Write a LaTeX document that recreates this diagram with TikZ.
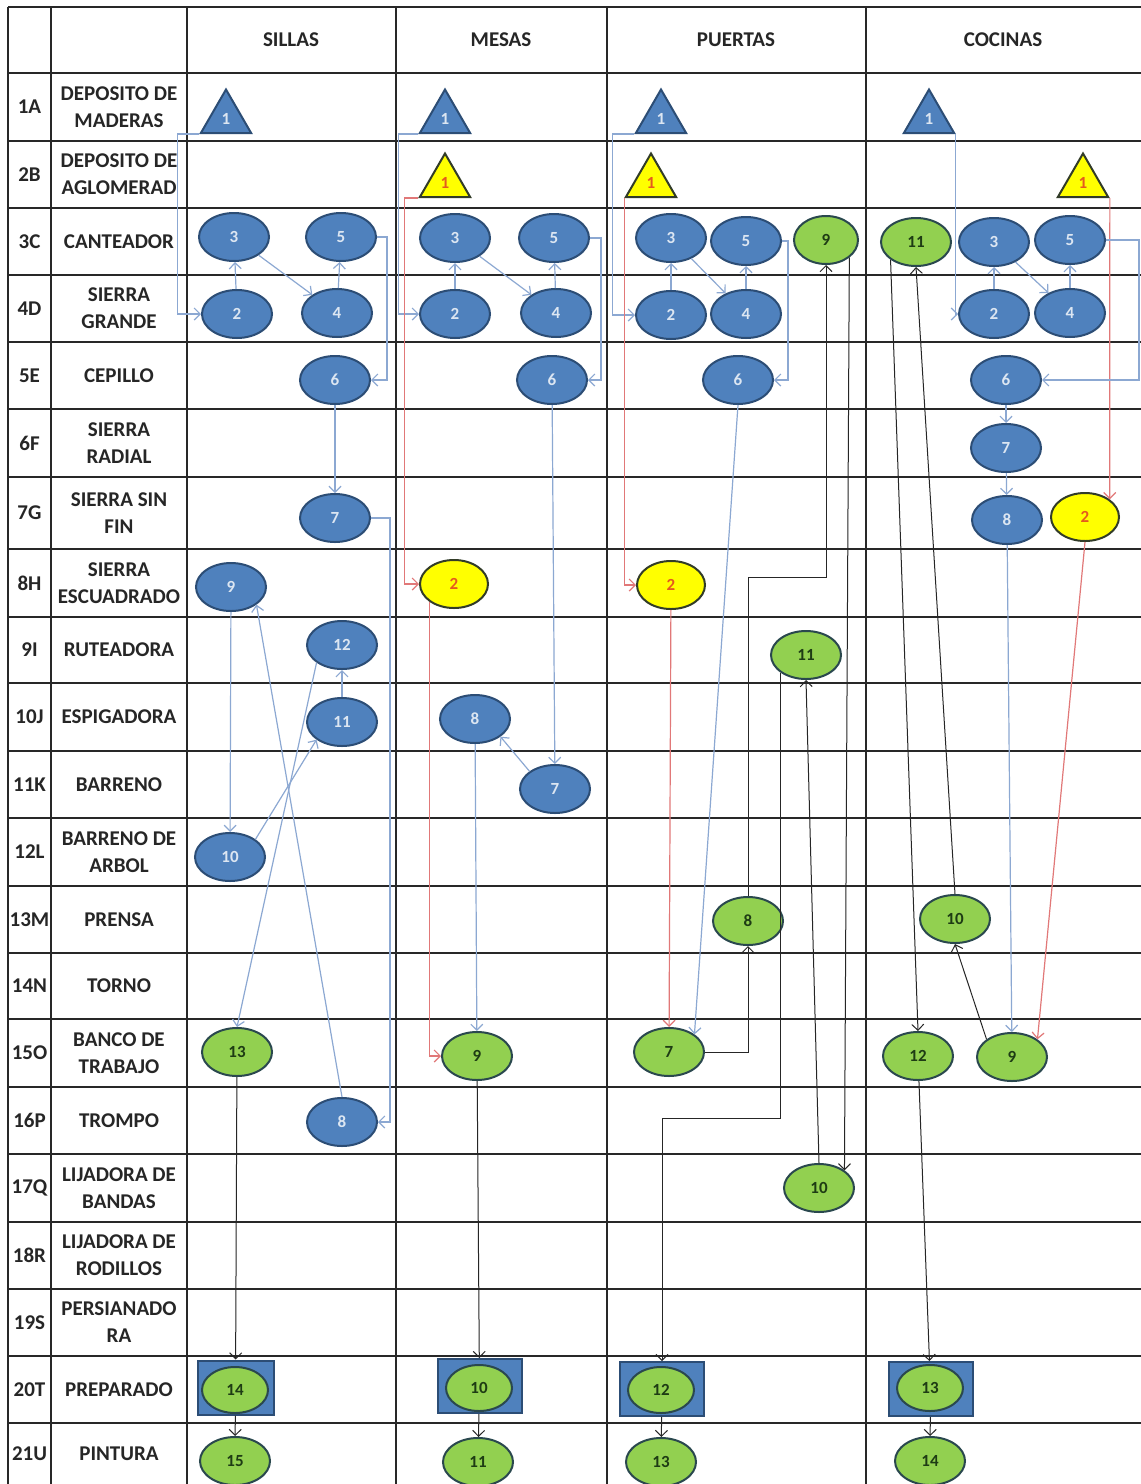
\documentclass[tikz,border=0pt]{standalone}
\usepackage{fontspec}
\setmainfont{Carlito}
\usetikzlibrary{shapes.geometric,arrows.meta}
\definecolor{bluef}{RGB}{79,129,189}
\definecolor{bluedk}{RGB}{44,77,117}
\definecolor{bluetxt}{RGB}{220,230,242}
\definecolor{greenf}{RGB}{146,208,80}
\definecolor{greendk}{RGB}{42,72,78}
\definecolor{greentxt}{RGB}{30,60,20}
\definecolor{yelf}{RGB}{255,255,0}
\definecolor{yeldk}{RGB}{50,60,40}
\definecolor{redtxt}{RGB}{228,90,30}
\definecolor{blueline}{RGB}{140,168,210}
\definecolor{redline}{RGB}{225,120,120}
\definecolor{gridc}{RGB}{40,40,40}
\definecolor{labc}{RGB}{38,38,38}
\tikzset{
  gridln/.style={draw=gridc, line width=0.8pt},
  headl/.style={font=\bfseries\fontsize{10.5}{13}\selectfont, text=labc, inner sep=0},
  codel/.style={font=\bfseries\fontsize{10.5}{13}\selectfont, text=labc, inner sep=0},
  rowl/.style={font=\bfseries\fontsize{10.5}{13.5}\selectfont, text=labc, align=center, inner sep=0},
  numf/.style={font=\bfseries\fontsize{8.5}{10}\selectfont},
  bnode/.style={ellipse, draw=bluedk, fill=bluef, line width=1pt, minimum width=35pt, minimum height=24pt, inner sep=0, numf, text=bluetxt},
  gnode/.style={ellipse, draw=greendk, fill=greenf, line width=1pt, minimum width=35pt, minimum height=24pt, inner sep=0, numf, text=greentxt},
  ynode/.style={ellipse, draw=yeldk, fill=yelf, line width=1pt, minimum width=34pt, minimum height=24pt, inner sep=0, numf, text=redtxt},
  ginner/.style={ellipse, draw=greendk, fill=greenf, line width=1pt, minimum width=33pt, minimum height=23pt, inner sep=0, numf, text=greentxt},
  btri/.style={regular polygon, regular polygon sides=3, minimum size=29pt, inner sep=0, draw=bluedk, fill=bluef, line width=1pt, numf, text=bluetxt},
  ytri/.style={regular polygon, regular polygon sides=3, minimum size=29pt, inner sep=0, draw=yeldk, fill=yelf, line width=1pt, numf, text=redtxt},
  prep/.style={rectangle, draw=bluedk, fill=bluef, line width=1pt, minimum width=42pt, minimum height=27pt, inner sep=0},
  tipv/.style={-{Straight Barb[length=3pt,width=6pt]}},
  blueln/.style={draw=blueline, line width=0.6pt, tipv},
  redln/.style={draw=redline, line width=0.6pt, tipv},
  blackln/.style={draw=black!85, line width=0.5pt, tipv}
}
\begin{document}
\begin{tikzpicture}[x=0.5pt,y=-0.5pt]
\useasboundingbox (0,0) rectangle (1141,1484);
\fill[white] (0,0) rectangle (1141,1484);
% grid
\foreach \y in {7,73,141,208,275,342,409,477,549,617,683,751,818,886,953,1019,1087,1154,1222,1289,1356,1423}
  \draw[gridln] (8,\y) -- (1141,\y);
\foreach \x in {8,51,187,396,607,866}
  \draw[gridln] (\x,7) -- (\x,1484);
% header
\node[headl] (hs) at (291,40) {SILLAS};
\node[headl] (hm) at (501,40) {MESAS};
\node[headl] (hp) at (736,40) {PUERTAS};
\node[headl] (hc) at (1003,40) {COCINAS};
% codes
\node[codel] (k1) at (29.5,107) {1A};
\node[codel] (k2) at (29.5,174.5) {2B};
\node[codel] (k3) at (29.5,241.5) {3C};
\node[codel] (k4) at (29.5,308.5) {4D};
\node[codel] (k5) at (29.5,375.5) {5E};
\node[codel] (k6) at (29.5,443) {6F};
\node[codel] (k7) at (29.5,513) {7G};
\node[codel] (k8) at (29.5,583) {8H};
\node[codel] (k9) at (29.5,650) {9I};
\node[codel] (k10) at (29.5,717) {10J};
\node[codel] (k11) at (29.5,784.5) {11K};
\node[codel] (k12) at (29.5,852) {12L};
\node[codel] (k13) at (29.5,919.5) {13M};
\node[codel] (k14) at (29.5,986) {14N};
\node[codel] (k15) at (29.5,1053) {15O};
\node[codel] (k16) at (29.5,1120.5) {16P};
\node[codel] (k17) at (29.5,1188) {17Q};
\node[codel] (k18) at (29.5,1255.5) {18R};
\node[codel] (k19) at (29.5,1322.5) {19S};
\node[codel] (k20) at (29.5,1389.5) {20T};
\node[codel] (k21) at (29.5,1453.5) {21U};
% row labels
\node[rowl] (l1) at (119,107) {DEPOSITO DE\\MADERAS};
\node[rowl] (l2) at (119,174.5) {DEPOSITO DE\\AGLOMERAD};
\node[rowl] (l3) at (119,241.5) {CANTEADOR};
\node[rowl] (l4) at (119,308.5) {SIERRA\\GRANDE};
\node[rowl] (l5) at (119,375.5) {CEPILLO};
\node[rowl] (l6) at (119,443) {SIERRA\\RADIAL};
\node[rowl] (l7) at (119,513) {SIERRA SIN\\FIN};
\node[rowl] (l8) at (119,583) {SIERRA\\ESCUADRADO};
\node[rowl] (l9) at (119,650) {RUTEADORA};
\node[rowl] (l10) at (119,717) {ESPIGADORA};
\node[rowl] (l11) at (119,784.5) {BARRENO};
\node[rowl] (l12) at (119,852) {BARRENO DE\\ARBOL};
\node[rowl] (l13) at (119,919.5) {PRENSA};
\node[rowl] (l14) at (119,986) {TORNO};
\node[rowl] (l15) at (119,1053) {BANCO DE\\TRABAJO};
\node[rowl] (l16) at (119,1120.5) {TROMPO};
\node[rowl] (l17) at (119,1188) {LIJADORA DE\\BANDAS};
\node[rowl] (l18) at (119,1255.5) {LIJADORA DE\\RODILLOS};
\node[rowl] (l19) at (119,1322.5) {PERSIANADO\\RA};
\node[rowl] (l20) at (119,1389.5) {PREPARADO};
\node[rowl] (l21) at (119,1453.5) {PINTURA};
% ===== SILLAS nodes
\node[btri] (s1) at (226,118.5) {1};
\node[bnode] (s3) at (234,237) {3};
\node[bnode] (s5) at (341,237) {5};
\node[bnode] (s2) at (237,314) {2};
\node[bnode] (s4) at (337,313) {4};
\node[bnode] (s6) at (335,380) {6};
\node[bnode] (s7) at (335,518) {7};
\node[bnode] (s9) at (231,587) {9};
\node[bnode] (s12) at (342,645) {12};
\node[bnode] (s11) at (342,722) {11};
\node[bnode] (s10) at (230,857) {10};
\node[gnode] (s13) at (237,1052) {13};
\node[bnode] (s8) at (342,1122) {8};
\node[prep, minimum width=38pt] (s14r) at (235.5,1387.5) {};
\node[ginner] (s14) at (235,1390) {14};
\node[gnode] (s15) at (235,1461) {15};
% ===== MESAS nodes
\node[btri] (m1) at (445,118.5) {1};
\node[ytri] (my1) at (445,182.5) {1};
\node[bnode] (m3) at (455,238) {3};
\node[bnode] (m5) at (554,238) {5};
\node[bnode] (m2) at (455,314) {2};
\node[bnode] (m4) at (556,313) {4};
\node[bnode] (m6) at (552,380) {6};
\node[ynode] (my2) at (454,584) {2};
\node[bnode] (m8) at (475,719) {8};
\node[bnode] (m7) at (555,789) {7};
\node[gnode] (m9) at (477,1056) {9};
\node[prep] (m10r) at (479.5,1386) {};
\node[ginner] (m10) at (479,1388) {10};
\node[gnode] (m11) at (478,1462) {11};
% ===== PUERTAS nodes
\node[btri] (p1) at (661,118.5) {1};
\node[ytri] (py1) at (651,182.5) {1};
\node[bnode] (p3) at (671,238) {3};
\node[bnode] (p5) at (746,241) {5};
\node[gnode, minimum width=32pt] (p9) at (826,240) {9};
\node[bnode] (p2) at (671,315) {2};
\node[bnode] (p4) at (746,314) {4};
\node[bnode] (p6) at (738,380) {6};
\node[ynode] (py2) at (671,585) {2};
\node[gnode] (p11) at (806,655) {11};
\node[gnode] (p8) at (748,921) {8};
\node[gnode] (p7) at (669,1052) {7};
\node[gnode] (p10) at (819,1188) {10};
\node[prep] (p12r) at (662,1389) {};
\node[ginner] (p12) at (661,1390) {12};
\node[gnode] (p13) at (661,1462) {13};
% ===== COCINAS nodes
\node[btri] (c1) at (929,118.5) {1};
\node[ytri] (cy1) at (1083,182.5) {1};
\node[gnode] (c11) at (916,242) {11};
\node[bnode] (c3) at (994,242) {3};
\node[bnode] (c5) at (1070,240) {5};
\node[bnode] (c2) at (994,314) {2};
\node[bnode] (c4) at (1070,313) {4};
\node[bnode] (c6) at (1006,380) {6};
\node[bnode] (c7) at (1006,448) {7};
\node[bnode] (c8) at (1007,520) {8};
\node[ynode] (cy2) at (1085,517) {2};
\node[gnode] (c10) at (955,919) {10};
\node[gnode] (c12) at (918,1056) {12};
\node[gnode] (c9) at (1012,1057) {9};
\node[prep] (c13r) at (930.5,1389) {};
\node[ginner] (c13) at (930,1388) {13};
\node[gnode] (c14) at (930,1461) {14};
% ===== SILLAS connectors
\draw[blueln] (s1.corner 2) -- ++(-22,0) |- (s2.west);
\draw[blueln] (s2) -- (s3);
\draw[blueln] (s3) -- (s4);
\draw[blueln] (s4) -- (s5);
\draw[blueln] (s5.east) -- ++(10,0) |- (s6.east);
\draw[blueln] (s6) -- (s7);
\draw[blueln] (s7.east) -- ++(19,0) |- (s8.east);
\draw[blueln] (s8.north) -- (s9.south east);
\draw[blueln] (s9) -- (s10);
\draw[blueln] (s10.north east) -- (s11.south west);
\draw[blueln] (s11) -- (s12);
\draw[blueln] (s12.south west) -- (s13.north);
\draw[blackln] (s13) -- (s14r);
\draw[blackln] (s14r) -- (s15);
% ===== MESAS connectors
\draw[blueln] (m1.corner 2) -- ++(-20,0) |- (m2.west);
\draw[redln] (my1.corner 2) -- ++(-14,0) |- (my2.west);
\draw[blueln] (m2) -- (m3);
\draw[blueln] (m3) -- (m4);
\draw[blueln] (m4) -- (m5);
\draw[blueln] (m5.east) -- ++(11,0) |- (m6.east);
\draw[blueln] (m6) -- (m7);
\draw[blueln] (m7.north west) -- (m8.south east);
\draw[blueln] (m8) -- (m9);
\draw[redln] (my2.south west) |- (m9.west);
\draw[blackln] (m9) -- (m10r);
\draw[blackln] (m10r) -- (m11);
% ===== PUERTAS connectors
\draw[blueln] (p1.corner 2) -- ++(-22,0) |- (p2.west);
\draw[redln] (py1.corner 2) |- (py2.west);
\draw[blueln] (p2) -- (p3);
\draw[blueln] (p3) -- (p4);
\draw[blueln] (p4) -- (p5);
\draw[blueln] (p5.east) -- ++(6,0) |- (p6.east);
\draw[blueln] (p6.south) -- (p7.north east);
\draw[redln] (py2) -- (p7);
\draw[blackln] (p7.east) -| (p8.south);
\draw[blackln] (p8.north) -- ++(0,-319) -| (p9.south);
\draw[blackln] (p9.south east) -- (p10.north east);
\draw[blackln] (p10.north) -- (p11.south);
\draw[blackln] (p11.south west) -- ++(0,446) -| (p12r.north);
\draw[blackln] (p12r) -- (p13);
% ===== COCINAS connectors
\draw[blueln] (c1.corner 3) |- (c2.west);
\draw[redln] (cy1.corner 3) -- (cy2.north east);
\draw[blueln] (c2) -- (c3);
\draw[blueln] (c3) -- (c4);
\draw[blueln] (c4) -- (c5);
\draw[blueln] (c5.east) -- ++(33,0) |- (c6.east);
\draw[blueln] (c6) -- (c7);
\draw[blueln] (c7) -- (c8);
\draw[blueln] (c8) -- (c9);
\draw[redln] (cy2.south) -- (c9.north east);
\draw[blackln] (c9.north west) -- (c10.south);
\draw[blackln] (c10.north) -- (c11.south);
\draw[blackln] (c11.south west) -- (c12.north);
\draw[blackln] (c12) -- (c13r);
\draw[blackln] (c13r) -- (c14);
\end{tikzpicture}
\end{document}
